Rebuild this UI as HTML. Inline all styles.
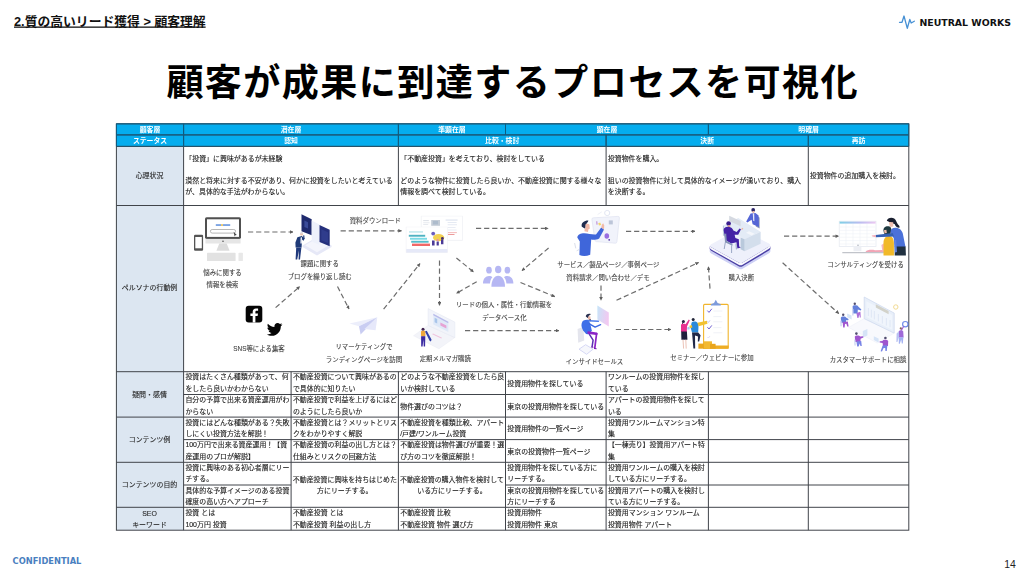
<!DOCTYPE html>
<html lang="ja"><head><meta charset="utf-8"><title>顧客が成果に到達するプロセスを可視化</title>
<style>
html,body{margin:0;padding:0;background:#fff;}
body{width:1025px;height:577px;overflow:hidden;position:relative;font-family:"Liberation Sans","Noto Sans CJK JP",sans-serif;}
svg{position:absolute;left:0;top:0;}
text{font-family:"Liberation Sans","Noto Sans CJK JP",sans-serif;}
.c{font-size:6.95px;fill:#1c1c1c;stroke:#1c1c1c;stroke-width:0.12px;}
.h{font-size:6.85px;fill:#fff;font-weight:700;text-anchor:middle;}
.l{font-size:6.95px;fill:#262626;stroke:#262626;stroke-width:0.1px;text-anchor:middle;}
.d{font-size:6.42px;fill:#444;stroke:#444;stroke-width:0.1px;text-anchor:middle;}
.ar{stroke:#6c6c6c;stroke-width:1.2;stroke-dasharray:5.2 2.9;fill:none;}
.g{stroke:#40444a;stroke-width:1;fill:none;}
.gh{stroke:#0c5d84;stroke-width:1;fill:none;}
</style></head><body>
<svg width="1025" height="577" viewBox="0 0 1025 577">
<defs><marker id="ah" viewBox="0 0 6 6" refX="5.4" refY="3" markerWidth="3.8" markerHeight="3.6" markerUnits="userSpaceOnUse" orient="auto"><path d="M0,0 L6,3 L0,6 Z" fill="#5e5e5e"/></marker></defs>
<text x="14" y="25.5" style="font-size:12.8px;font-weight:700;fill:#111;text-decoration:underline">2.質の高いリード獲得 &gt; 顧客理解</text>
<text x="166.4" y="96.4" style="font-size:37.1px;letter-spacing:1.4px;font-weight:700;fill:#000">顧客が成果に到達するプロセスを可視化</text>
<path d="M899.5,22.3 L902,22.3 L904,16 L907.3,28.3 L909.8,19.5 L911.2,23 L914.3,21.2" fill="none" stroke="#4690d4" stroke-width="1.3" stroke-linejoin="round" stroke-linecap="round"/>
<text x="919.4" y="25.8" style="font-family:'DejaVu Sans','Liberation Sans',sans-serif;font-size:9.4px;font-weight:700;fill:#111">NEUTRAL WORKS</text>
<text x="12.6" y="563.7" style="font-family:'DejaVu Sans','Liberation Sans',sans-serif;font-size:8.3px;font-weight:700;fill:#4a7fc0">CONFIDENTIAL</text>
<text x="1004.2" y="568" style="font-size:10.4px;fill:#222">14</text>
<g style="filter:blur(0.35px)">
<rect x="116.4" y="123.8" width="792.4" height="22.60000000000001" fill="#05adee"/>
<rect x="116.4" y="146.4" width="67.19999999999999" height="383.80000000000007" fill="#dce6f1"/>
<rect class="g" x="116.4" y="123.8" width="792.4" height="406.40000000000003"/>
<line class="g" x1="116.4" y1="134.9" x2="908.8" y2="134.9"/>
<line class="g" x1="116.4" y1="146.4" x2="908.8" y2="146.4"/>
<line class="g" x1="116.4" y1="205.5" x2="908.8" y2="205.5"/>
<line class="g" x1="116.4" y1="371.7" x2="908.8" y2="371.7"/>
<line class="g" x1="116.4" y1="417.1" x2="908.8" y2="417.1"/>
<line class="g" x1="116.4" y1="462.3" x2="908.8" y2="462.3"/>
<line class="g" x1="116.4" y1="507.3" x2="908.8" y2="507.3"/>
<line class="g" x1="183.6" y1="394.5" x2="908.8" y2="394.5"/>
<line class="g" x1="183.6" y1="439.6" x2="908.8" y2="439.6"/>
<line class="g" x1="183.6" y1="485.0" x2="291.1" y2="485.0"/>
<line class="g" x1="505.5" y1="485.0" x2="908.8" y2="485.0"/>
<line class="g" x1="183.6" y1="123.8" x2="183.6" y2="530.2"/>
<line class="g" x1="398.4" y1="123.8" x2="398.4" y2="134.9"/>
<line class="g" x1="505.5" y1="123.8" x2="505.5" y2="134.9"/>
<line class="g" x1="708.4" y1="123.8" x2="708.4" y2="134.9"/>
<line class="g" x1="398.4" y1="134.9" x2="398.4" y2="146.4"/>
<line class="g" x1="606.1" y1="134.9" x2="606.1" y2="146.4"/>
<line class="g" x1="808.3" y1="134.9" x2="808.3" y2="146.4"/>
<line class="g" x1="398.4" y1="146.4" x2="398.4" y2="205.5"/>
<line class="g" x1="606.1" y1="146.4" x2="606.1" y2="205.5"/>
<line class="g" x1="808.3" y1="146.4" x2="808.3" y2="205.5"/>
<line class="g" x1="291.1" y1="371.7" x2="291.1" y2="530.2"/>
<line class="g" x1="398.4" y1="371.7" x2="398.4" y2="530.2"/>
<line class="g" x1="505.5" y1="371.7" x2="505.5" y2="530.2"/>
<line class="g" x1="606.1" y1="371.7" x2="606.1" y2="530.2"/>
<line class="g" x1="708.4" y1="371.7" x2="708.4" y2="530.2"/>
<line class="g" x1="808.3" y1="371.7" x2="808.3" y2="530.2"/>
<line class="gh" x1="116.4" y1="123.8" x2="908.8" y2="123.8"/>
<line class="gh" x1="116.4" y1="134.9" x2="908.8" y2="134.9"/>
<line class="gh" x1="116.4" y1="123.8" x2="116.4" y2="146.4"/>
<line class="gh" x1="908.8" y1="123.8" x2="908.8" y2="146.4"/>
<line class="gh" x1="183.6" y1="123.8" x2="183.6" y2="146.4"/>
<line class="gh" x1="398.4" y1="123.8" x2="398.4" y2="134.9"/>
<line class="gh" x1="505.5" y1="123.8" x2="505.5" y2="134.9"/>
<line class="gh" x1="708.4" y1="123.8" x2="708.4" y2="134.9"/>
<line class="gh" x1="398.4" y1="134.9" x2="398.4" y2="146.4"/>
<line class="gh" x1="606.1" y1="134.9" x2="606.1" y2="146.4"/>
<line class="gh" x1="808.3" y1="134.9" x2="808.3" y2="146.4"/>
<line x1="116.4" y1="146.4" x2="908.8" y2="146.4" stroke="#24556e" stroke-width="1"/>
<text class="h" x="150.0" y="132.1">顧客層</text>
<text class="h" x="291.0" y="132.1">潜在層</text>
<text class="h" x="451.9" y="132.1">準顕在層</text>
<text class="h" x="607.0" y="132.1">顕在層</text>
<text class="h" x="808.6" y="132.1">明確層</text>
<text class="h" x="150.0" y="143.3">ステータス</text>
<text class="h" x="291.0" y="143.3">認知</text>
<text class="h" x="502.2" y="143.3">比較・検討</text>
<text class="h" x="707.2" y="143.3">決断</text>
<text class="h" x="858.5" y="143.3">再訪</text>
<text class="l" x="149.5" y="178.3">心理状況</text>
<text class="l" x="149.5" y="290.2">ペルソナの行動例</text>
<text class="l" x="149.5" y="397.0">疑問・感情</text>
<text class="l" x="149.5" y="442.3">コンテンツ例</text>
<text class="l" x="149.5" y="487.4">コンテンツの目的</text>
<text class="l" x="149.5" y="516.0">SEO</text>
<text class="l" x="149.5" y="527.4">キーワード</text>
<text class="c" x="185.3" y="160.8">「投資」に興味があるが未経験</text>
<text class="c" x="185.3" y="182.8">漠然と将来に対する不安があり、何かに投資をしたいと考えている</text>
<text class="c" x="185.3" y="194.1">が、具体的な手法がわからない。</text>
<text class="c" x="400.3" y="160.8">「不動産投資」を考えており、検討をしている</text>
<text class="c" x="400.3" y="182.8">どのような物件に投資したら良いか、不動産投資に関する様々な</text>
<text class="c" x="400.3" y="194.1">情報を調べて検討している。</text>
<text class="c" x="607.8" y="160.8">投資物件を購入。</text>
<text class="c" x="607.8" y="182.8">狙いの投資物件に対して具体的なイメージが湧いており、購入</text>
<text class="c" x="607.8" y="194.1">を決断する。</text>
<text class="c" x="809.8" y="178.2">投資物件の追加購入を検討。</text>
<text class="c" x="185.4" y="379.3">投資はたくさん種類があって、何</text>
<text class="c" x="185.4" y="390.8">をしたら良いかわからない</text>
<text class="c" x="292.9" y="379.3">不動産投資について興味があるの</text>
<text class="c" x="292.9" y="390.8">で具体的に知りたい</text>
<text class="c" x="400.2" y="379.3">どのような不動産投資をしたら良</text>
<text class="c" x="400.2" y="390.8">いか検討している</text>
<text class="c" x="507.3" y="385.9">投資用物件を探している</text>
<text class="c" x="607.9" y="379.3">ワンルームの投資用物件を探し</text>
<text class="c" x="607.9" y="390.8">ている</text>
<text class="c" x="185.4" y="402.1">自分の予算で出来る資産運用がわ</text>
<text class="c" x="185.4" y="413.6">からない</text>
<text class="c" x="292.9" y="402.1">不動産投資で利益を上げるにはど</text>
<text class="c" x="292.9" y="413.6">のようにしたら良いか</text>
<text class="c" x="400.2" y="408.6">物件選びのコツは？</text>
<text class="c" x="507.3" y="408.6">東京の投資用物件を探している</text>
<text class="c" x="607.9" y="402.1">アパートの投資用物件を探して</text>
<text class="c" x="607.9" y="413.6">いる</text>
<text class="c" x="185.4" y="424.8">投資にはどんな種類がある？失敗</text>
<text class="c" x="185.4" y="436.2">しにくい投資方法を解説！</text>
<text class="c" x="292.9" y="424.8">不動産投資とは？メリットとリス</text>
<text class="c" x="292.9" y="436.2">クをわかりやすく解説</text>
<text class="c" x="400.2" y="424.8">不動産投資を種類比較、アパート</text>
<text class="c" x="400.2" y="436.2">/戸建/ワンルーム投資</text>
<text class="c" x="507.3" y="431.1">投資用物件の一覧ページ</text>
<text class="c" x="607.9" y="424.8">投資用ワンルームマンション特</text>
<text class="c" x="607.9" y="436.2">集</text>
<text class="c" x="185.4" y="447.2">100万円で出来る資産運用！【資</text>
<text class="c" x="185.4" y="458.8">産運用のプロが解説】</text>
<text class="c" x="292.9" y="447.2">不動産投資の利益の出し方とは？</text>
<text class="c" x="292.9" y="458.8">仕組みとリスクの回避方法</text>
<text class="c" x="400.2" y="447.2">不動産投資は物件選びが重要！選</text>
<text class="c" x="400.2" y="458.8">び方のコツを徹底解説！</text>
<text class="c" x="507.3" y="453.7">東京の投資物件一覧ページ</text>
<text class="c" x="607.9" y="447.2">【一棟売り】投資用アパート特</text>
<text class="c" x="607.9" y="458.8">集</text>
<text class="c" x="185.4" y="469.9">投資に興味のある初心者層にリー</text>
<text class="c" x="185.4" y="481.4">チする。</text>
<text class="c" x="507.3" y="469.9">投資用物件を探している方に</text>
<text class="c" x="507.3" y="481.4">リーチする。</text>
<text class="c" x="607.9" y="469.9">投資用ワンルームの購入を検討</text>
<text class="c" x="607.9" y="481.4">している方にリーチする。</text>
<text class="c" x="185.4" y="492.6">具体的な予算イメージのある投資</text>
<text class="c" x="185.4" y="504.1">確度の高い方へアプローチ</text>
<text class="c" x="507.3" y="492.6">東京の投資用物件を探している</text>
<text class="c" x="507.3" y="504.1">方にリーチする</text>
<text class="c" x="607.9" y="492.6">投資用アパートの購入を検討し</text>
<text class="c" x="607.9" y="504.1">ている方にリーチする。</text>
<text class="c" x="344.8" y="481.6" text-anchor="middle">不動産投資に興味を持ちはじめた</text>
<text class="c" x="344.8" y="493.1" text-anchor="middle">方にリーチする。</text>
<text class="c" x="451.9" y="481.6" text-anchor="middle">不動産投資の購入物件を検討して</text>
<text class="c" x="451.9" y="493.1" text-anchor="middle">いる方にリーチする。</text>
<text class="c" x="185.4" y="515.0">投資 とは</text>
<text class="c" x="185.4" y="526.5">100万円 投資</text>
<text class="c" x="292.9" y="515.0">不動産投資 とは</text>
<text class="c" x="292.9" y="526.5">不動産投資 利益の出し方</text>
<text class="c" x="400.2" y="515.0">不動産投資 比較</text>
<text class="c" x="400.2" y="526.5">不動産投資 物件 選び方</text>
<text class="c" x="507.3" y="515.0">投資用物件</text>
<text class="c" x="507.3" y="526.5">投資用物件 東京</text>
<text class="c" x="607.9" y="515.0">投資用マンション ワンルーム</text>
<text class="c" x="607.9" y="526.5">投資用物件 アパート</text>
<text class="d" x="222.5" y="275.3">悩みに関する</text>
<text class="d" x="222.5" y="287.3">情報を検索</text>
<text class="d" x="319.7" y="266.3">課題に関する</text>
<text class="d" x="319.7" y="278.8">ブログを繰り返し読む</text>
<text class="d" x="375.3" y="223.3">資料ダウンロード</text>
<text class="d" x="259.0" y="351.3">SNS等による集客</text>
<text class="d" x="364.0" y="349.0">リマーケティングで</text>
<text class="d" x="364.0" y="362.0">ランディングページを訪問</text>
<text class="d" x="445.3" y="361.1">定期メルマガ購読</text>
<text class="d" x="504.0" y="307.0">リードの個人・属性・行動情報を</text>
<text class="d" x="504.4" y="319.5">データベース化</text>
<text class="d" x="608.4" y="266.7">サービス／製品ページ／事例ページ</text>
<text class="d" x="608.0" y="279.5">資料請求／問い合わせ／デモ</text>
<text class="d" x="594.4" y="363.9">インサイドセールス</text>
<text class="d" x="741.3" y="280.3">購入決断</text>
<text class="d" x="711.9" y="360.1">セミナー／ウェビナーに参加</text>
<text class="d" x="865.6" y="266.7">コンサルティングを受ける</text>
<text class="d" x="868.0" y="362.3">カスタマーサポートに相談</text>
<line class="ar" x1="248.0" y1="232.0" x2="293.0" y2="232.0" marker-end="url(#ah)"/>
<line class="ar" x1="340.6" y1="230.8" x2="401.5" y2="230.8" marker-end="url(#ah)"/>
<line class="ar" x1="275.6" y1="307.6" x2="299.8" y2="286.5" marker-end="url(#ah)"/>
<line class="ar" x1="337.5" y1="286.5" x2="349.0" y2="309.0" marker-end="url(#ah)"/>
<line class="ar" x1="383.6" y1="309.2" x2="420.0" y2="263.6" marker-end="url(#ah)"/>
<line class="ar" x1="439.5" y1="260.5" x2="439.5" y2="305.3" marker-end="url(#ah)"/>
<line class="ar" x1="456.4" y1="258.0" x2="473.6" y2="272.0" marker-end="url(#ah)"/>
<line class="ar" x1="476.7" y1="281.7" x2="456.4" y2="293.4" marker-end="url(#ah)"/>
<line class="ar" x1="476.0" y1="228.4" x2="548.3" y2="228.4" marker-end="url(#ah)"/>
<line class="ar" x1="548.6" y1="248.0" x2="522.0" y2="270.6" marker-end="url(#ah)"/>
<line class="ar" x1="520.5" y1="282.5" x2="554.8" y2="296.6" marker-end="url(#ah)"/>
<line class="ar" x1="465.0" y1="330.6" x2="559.0" y2="330.6" marker-end="url(#ah)"/>
<line class="ar" x1="601.0" y1="285.5" x2="601.0" y2="300.3" marker-end="url(#ah)"/>
<line class="ar" x1="626.0" y1="231.3" x2="695.0" y2="231.3" marker-end="url(#ah)"/>
<line class="ar" x1="616.5" y1="300.3" x2="698.6" y2="262.5" marker-end="url(#ah)"/>
<line class="ar" x1="615.8" y1="329.5" x2="671.0" y2="329.5" marker-end="url(#ah)"/>
<line class="ar" x1="710.0" y1="288.6" x2="708.4" y2="266.7" marker-end="url(#ah)"/>
<line class="ar" x1="784.0" y1="236.2" x2="838.8" y2="236.2" marker-end="url(#ah)"/>
<line class="ar" x1="782.6" y1="262.8" x2="838.8" y2="313.6" marker-end="url(#ah)"/>
<g style="filter:blur(0.4px)">
<!-- monitor / phone / keyboard -->
<g>
<rect x="205" y="217.3" width="36" height="21.6" rx="1.6" fill="#505050"/>
<rect x="207" y="219.3" width="32" height="17.6" fill="#fff"/>
<rect x="205.4" y="238.9" width="35.2" height="4.6" fill="#e6e6e6"/>
<circle cx="223" cy="241.2" r="0.8" fill="#555"/>
<path d="M219.3,243.5 L226.7,243.5 L229.6,250.8 L216.4,250.8 Z" fill="#dcdcdc"/>
<rect x="207" y="252.8" width="28.6" height="8.2" rx="0.6" fill="#e2e2e2"/>
<rect x="238.5" y="252.8" width="4.4" height="8.2" rx="0.6" fill="#e8e8e8"/>
<rect x="210.4" y="229.5" width="25.2" height="3.6" rx="1.8" fill="#fff" stroke="#9a9a9a" stroke-width="0.7"/>
<rect x="215.8" y="224.2" width="5.2" height="1.7" fill="#6f9be0"/><rect x="221" y="224.2" width="2" height="1.7" fill="#ecc45a"/><rect x="223" y="224.2" width="7.2" height="1.7" fill="#6f9be0"/>
<path d="M233.6,231.8 L236.8,235 L235.4,235.2 L234.6,236.4 Z" fill="#444"/>
<rect x="194" y="234.8" width="9.1" height="15.9" rx="1.2" fill="#545454"/>
<rect x="195.3" y="237" width="6.5" height="11.3" fill="#fff"/>
</g>
<!-- blog illustration -->
<g>
<path d="M302.5,245.6 L317,237 L331.6,245.6 L331.6,247 L317,255.6 L302.5,247 Z" fill="#e6e8f7"/>
<path d="M305,245.2 L317,238.4 L329,245.2 L317,252.200 Z" fill="#f4f5fc"/>
<path d="M301.5,214.3 L311.7,219.2 L311.7,235.2 L301.5,231.3 Z" fill="#1f2a6e"/>
<path d="M304.4,220.6 L308,222.3 L308,228.6 L304.4,227.1 Z" fill="#3a4b9a"/>
<path d="M311.7,220.6 L319.5,224.4 L319.5,245 L311.7,241.4 Z" fill="#eef1fb"/>
<path d="M319.5,225 L329.7,229.8 L329.7,246.3 L319.5,242 Z" fill="#25307c"/>
<path d="M321.3,229.2 L328,232.3 L328,243 L321.3,240.2 Z" fill="#2f3c8c"/>
<circle cx="301.6" cy="234.1" r="1.6" fill="#e9c7b5"/>
<path d="M300.2,233 A1.7,1.7 0 0 1 303.2,233 L302.8,233.6 L300.4,233.6 Z" fill="#d9dce8"/>
<path d="M297.4,237.2 L301.8,236 L304.6,238.4 L303.4,240.8 L302,239.6 L301.6,247.4 L295.6,247.4 L295.4,242.6 Z" fill="#1f3a78"/>
<path d="M300.6,237.4 L302,237.2 L301.8,243.4 L300.4,243.4 Z" fill="#f4f6fb"/>
<path d="M303.4,240.8 L304.6,238.4 L304.2,235.2 L303.2,235.4 Z" fill="#1f3a78"/>
<path d="M296.2,247.4 L301.4,247.4 L300,259.4 L298.6,259.4 L298.9,250.4 L297.2,259.4 L295.6,259.4 Z" fill="#203a7c"/>
</g>
<!-- SNS icons -->
<g>
<rect x="245.7" y="305.7" width="16.6" height="16.8" rx="3" fill="#050505"/>
<path d="M255.4,322.5 L255.4,316 L257.6,316 L258,313.5 L255.4,313.5 L255.4,312 C255.4,311.2 255.8,310.8 256.7,310.8 L258.1,310.8 L258.1,308.6 C257.6,308.5 256.8,308.4 256,308.4 C253.9,308.4 252.7,309.7 252.7,311.8 L252.7,313.5 L250.4,313.5 L250.4,316 L252.7,316 L252.7,322.5 Z" fill="#fff"/>
<path d="M282.3,324.6 c-0.6,0.3 -1.2,0.4 -1.8,0.5 c0.7,-0.4 1.2,-1 1.4,-1.8 c-0.6,0.4 -1.3,0.6 -2,0.8 c-0.6,-0.6 -1.400,-1 -2.300,-1 c-1.800,0 -3.200,1.400 -3.200,3.200 c0,0.200 0,0.500 0.100,0.700 c-2.700,-0.100 -5,-1.400 -6.600,-3.300 c-0.300,0.500 -0.400,1 -0.400,1.600 c0,1.100 0.600,2.100 1.400,2.700 c-0.500,0 -1,-0.200 -1.500,-0.400 v0 c0,1.600 1.100,2.900 2.600,3.200 c-0.300,0.100 -0.600,0.100 -0.800,0.100 c-0.200,0 -0.400,0 -0.600,-0.100 c0.400,1.300 1.600,2.200 3,2.200 c-1.100,0.900 -2.500,1.400 -4,1.400 c-0.300,0 -0.500,0 -0.800,0 c1.400,0.900 3.100,1.400 4.900,1.400 c5.900,0 9.100,-4.900 9.100,-9.100 c0,-0.100 0,-0.300 0,-0.400 c0.600,-0.500 1.200,-1 1.600,-1.700 z" fill="#050505"/>
</g>
<!-- paper plane -->
<g>
<path d="M349.5,323.5 L377.3,317.2 L359,326.3 Z" fill="#eceefb"/>
<path d="M359,326.3 L377.3,317.2 L360.6,334.6 Z" fill="#c9cdf2"/>
<path d="M377.3,317.2 L375.6,330.2 L364.4,329 Z" fill="#e6e8fa"/>
</g>
<!-- slides -->
<g>
<rect x="420.8" y="215.8" width="42" height="25" fill="#f1f2f6"/>
<rect x="421.6" y="216.4" width="40.4" height="23.4" fill="#fff"/>
<rect x="431.2" y="220" width="8.8" height="5.8" fill="#c4ccd6"/>
<rect x="433" y="221" width="5" height="3.4" fill="#aebccc"/>
<rect x="423.2" y="220.2" width="5.6" height="0.9" fill="#d8dce4"/><rect x="423.2" y="222.4" width="6.4" height="0.8" fill="#e2e5ec"/><rect x="423.2" y="224.2" width="5" height="0.8" fill="#e2e5ec"/>
<rect x="445.6" y="219.6" width="12" height="0.9" fill="#d4dcec"/><rect x="447.6" y="222" width="9" height="0.8" fill="#dfe5f1"/><rect x="447.6" y="224.4" width="9.4" height="0.8" fill="#dfe5f1"/><rect x="447.6" y="227" width="8" height="0.8" fill="#e4e8f2"/><rect x="447.6" y="229.6" width="9" height="0.8" fill="#e4e8f2"/>
<rect x="447.9" y="232.2" width="9" height="0.9" fill="#f2b3b3"/><rect x="447.9" y="234" width="6.6" height="1" fill="#ec9a9a"/>
<rect x="405.8" y="226.8" width="42" height="26" fill="#eff0f5"/>
<rect x="406.4" y="227.2" width="40.9" height="22" fill="#fff"/>
<rect x="406.4" y="249" width="40.9" height="3.5" fill="#e6e9f8"/>
<rect x="409" y="231.4" width="14" height="1.1" fill="#a9dfe6"/>
<rect x="408.8" y="234.8" width="16.4" height="1.9" fill="#4fb3c2"/>
<rect x="410" y="237.8" width="17" height="1.9" fill="#7adbe6"/>
<rect x="411.2" y="240.8" width="17.4" height="1.9" fill="#52bccb"/>
<rect x="412" y="243.6" width="18" height="2.4" fill="#f06868"/>
<ellipse cx="438.6" cy="237.6" rx="5.6" ry="3.6" fill="#f2d052"/>
<circle cx="433.2" cy="233.6" r="1.9" fill="#6a5cc0"/>
<path d="M432,240.4 h2.600 v5 h-2.600 z M436.600,241.400 h2.200 v4 h-2.200 z M441,239.600 h2.400 v4.600 h-2.400 z" fill="#4b3a96"/>
<circle cx="442.400" cy="238.400" r="1.400" fill="#47306e"/>
<circle cx="437.600" cy="240" r="1.100" fill="#e88ab0"/>
</g>
<!-- people icon -->
<g fill="#b6b7f3">
<ellipse cx="489" cy="270.2" rx="2.8" ry="3.4"/>
<ellipse cx="507.4" cy="270.2" rx="2.800" ry="3.400"/>
<path d="M483,283.600 C483,279 485.500,276.100 489,276.100 C490.600,276.100 491.800,276.600 492.400,277.200 C490.800,278.800 490.200,281 490,283.600 Z"/>
<path d="M513.400,283.600 C513.400,279 510.900,276.100 507.400,276.100 C505.800,276.100 504.600,276.600 504,277.200 C505.600,278.800 506.200,281 506.400,283.600 Z"/>
<ellipse cx="498.200" cy="269.500" rx="3.200" ry="3.800"/>
<path d="M491.400,286.700 C491.400,280.400 494.200,275.800 498.200,275.800 C502.200,275.800 505,280.400 505,286.700 Z"/>
</g>

<!-- newsletter laptop -->
<g>
<path d="M428.1,325.4 L454.8,337.6 L438.9,348.8 L413.6,335.7 Z" fill="#f3f4f9" stroke="#e9ebf3" stroke-width="0.5"/>
<path d="M428.1,308.6 L454.8,322.1 L454.8,337.6 L428.1,325.4 Z" fill="#f2f4fa" stroke="#e4e7f1" stroke-width="0.6"/>
<path d="M433.3,313.7 L448.3,321.7 L448.3,332 L433.3,324.5 Z" fill="#dfe9f8"/>
<path d="M433.3,313.7 L448.3,321.700 L448.3,323.300 L433.3,315.300 Z" fill="#b9baea"/>
<path d="M434.600,317.800 L437.200,319.100 L437.200,323.600 L434.600,322.300 Z" fill="#a9c5ea"/>
<path d="M440.400,322.400 L446.400,325.400 L446.400,328.600 L440.400,325.600 Z" fill="#e6a3d4"/>
<path d="M433,333.400 L442,337.800 L441.200,338.600 L432.200,334.200 Z" fill="#f0c2dc"/>
<circle cx="423" cy="329.300" r="1.500" fill="#41234f"/>
<rect x="421" y="330.700" width="4.400" height="5.800" rx="1" fill="#f0a93c"/>
<path d="M421.100,336.200 L425.300,336.200 L425.100,346.500 L423.700,346.500 L423.400,339.500 L422.600,346.500 L421.200,346.500 Z" fill="#3b2ba2"/>
<path d="M425,331.600 L426.800,330.800 L431.600,339.800 L430.800,341.600 L429.600,340.800 Z" fill="#3242aa"/>
</g>
<!-- service person -->
<g>
<circle cx="607.2" cy="213" r="2.600" fill="none" stroke="#e1e5f2" stroke-width="1"/>
<path d="M597.600,214.600 L601.800,211.800" stroke="#e6e9f3" stroke-width="0.700" fill="none"/>
<path d="M593.400,217.800 L618,216.400 Q619.600,216.400 619.400,218 L616.900,241.800 Q616.700,243.300 615.200,243.200 L596.400,241.600 Q595,241.400 594.800,240 L591.900,219.400 Q591.800,217.900 593.400,217.800 Z" fill="#f1f3fb" stroke="#dfe3f1" stroke-width="0.700"/>
<rect x="608.800" y="220.400" width="4" height="4" fill="#bcc5d8"/>
<path d="M596,221.400 l1.200,-0.400 l0.600,3.400 l-1.400,0.400 z" fill="#c7a0dc"/>
<path d="M598.200,223.200 l2,-0.800 l1,2.600 l-2.200,0.600 z" fill="#f3d76a"/>
<ellipse cx="606.800" cy="236" rx="2.300" ry="2.700" fill="#9a6fe0"/>
<circle cx="609.200" cy="239.800" r="0.900" fill="#5b3fa8"/>
<path d="M581.800,226.800 C580.800,222.800 584.600,220.400 588.400,220.600 C588,222.200 586.800,223.400 586,224.200 L585.200,228.800 Z" fill="#1f2d4f"/>
<path d="M585.400,224.600 C586.600,223.400 588.600,223.400 589.400,224.800 L589.800,228.600 C588.800,229.800 587,230 585.800,229.200 Z" fill="#f1b9a8"/>
<path d="M584.800,228 L588.400,229.400 L588,232 L584.400,231.200 Z" fill="#f1b9a8"/>
<path d="M577.300,237.400 C577.800,234.200 580.600,233.200 584.200,233.200 C588.400,233.200 592.600,235 596,234.400 L601.200,227.600 L604,229.400 L599.200,238.400 C596.400,240 593,240 591.200,239.600 L590.200,254.800 C586,256.400 582.400,256.200 579.400,255 L579.800,241.400 Z" fill="#3f66da"/>
<path d="M601.200,227.600 L602,224.600 L603.200,223.200 L604.200,225.400 L604,229.400 Z" fill="#f1b9a8"/>
<path d="M574.600,243 L575.800,248.400 M576.600,250.800 L579,249.600" stroke="#d6dae6" stroke-width="0.900" fill="none"/>
</g>
<!-- inside sales -->
<g>
<defs><linearGradient id="gs" x1="0" y1="0" x2="1" y2="0.300"><stop offset="0" stop-color="#bfe2f8"/><stop offset="1" stop-color="#f0c4f0"/></linearGradient></defs>
<path d="M597.4,305.600 L608.800,312.400 L608.800,326.400 L597.400,319.600 Z" fill="url(#gs)" opacity="0.900"/>
<path d="M577.600,329 L583.400,326.800 L584.200,340.400 L578.200,342.800 Z" fill="#e4e5ed"/>
<path d="M579,349.200 L585.600,344.700 L593.100,349.200 L586.600,354.300 Z" fill="#f6f7fc" stroke="#c5c8f0" stroke-width="0.700"/>
<path d="M585.800,316.600 C585.600,314.200 588.400,313.200 590.800,314 C590.200,315 589.400,315.400 588.800,315.800 L588.400,318.400 Z" fill="#2a3050"/>
<path d="M588.200,316.400 L590.200,316.200 L590.600,318.800 L589.400,320 L588,319.200 Z" fill="#efb7a6"/>
<path d="M589.200,319.400 L590.600,319 L591.200,321 L589.800,321.200 Z" fill="#2a3050"/>
<path d="M583.100,320.800 C584.600,319.800 586.800,319.400 588.400,319.800 L590.200,323.600 L591.800,330.400 L589.300,334.400 L586.100,333.900 C583.600,331.600 581.800,329 581.500,326.100 C581.400,323.800 581.900,321.900 583.100,320.800 Z" fill="#3e6fe8"/>
<path d="M588.400,320.700 L598.400,321.300" stroke="#4c7cec" stroke-width="1.500" stroke-linecap="round" fill="none"/>
<path d="M589.400,323.900 L595.100,327.100 L600.600,324.700" stroke="#3a68e2" stroke-width="1.400" stroke-linecap="round" stroke-linejoin="round" fill="none"/>
<path d="M589.600,334.700 L593.100,340.200 L592.100,346.700" stroke="#5a2fb4" stroke-width="1.500" stroke-linecap="round" stroke-linejoin="round" fill="none"/>
<path d="M588.600,332.600 L596.400,333.700" stroke="#8a22c6" stroke-width="2.600" stroke-linecap="round" fill="none"/>
<path d="M596.600,333.700 L594.800,347.800" stroke="#8a22c6" stroke-width="1.700" stroke-linecap="round" fill="none"/>
<path d="M594,347.800 L596.600,348.200 L596.600,349.200 L594,349 Z M591.200,346.400 L593.400,346.800 L593.400,347.800 L591.200,347.600 Z" fill="#7a20b0"/>
</g>
<!-- purchase decision -->
<g>
<path d="M709.700,248.600 L709.700,251.400 Q709.900,252.600 711.200,253.400 L738.600,268.800 Q740.600,269.800 742.600,268.800 L769,253.200 Q770.400,252.400 770.400,251.200 L770.400,248.400 Z" fill="#cdd0f5"/>
<path d="M709.700,246.600 L709.700,248.800 Q709.900,250 711.200,250.800 L738.600,266.200 Q740.600,267.200 742.600,266.200 L769,250.600 Q770.400,249.800 770.400,248.600 L770.400,246.400 Z" fill="#4a3fa4"/>
<path d="M711.200,244.200 L737.800,229.800 Q739.800,228.800 741.800,229.800 L769,243.600 Q771.400,245 769,246.600 L742.600,262.600 Q740.600,263.600 738.600,262.600 L711.200,247.200 Q708.800,245.600 711.200,244.200 Z" fill="#eef0fb"/>
<path d="M711.200,247.200 L738.600,262.600 Q740.600,263.600 742.600,262.600 L769,246.600 Q770.400,245.800 770.400,244.800 L770.400,246.800 Q770.400,248 769,248.800 L742.600,264.800 Q740.600,265.800 738.600,264.800 L711.200,249.400 Q709.700,248.400 709.700,247.200 L709.700,245.400 Q709.900,246.400 711.200,247.200 Z" fill="#f7f8fd"/>
<path d="M755.800,215.800 L759.600,217.400 L759.600,228.400 L755.800,226.600 Z" fill="#8b98ba"/>
<path d="M722.900,225.500 L738.300,218 L760.600,231.700 L744.600,239.200 Z" fill="#e3ebf6"/>
<path d="M744.600,239.200 L760.600,231.700 L760.600,243.800 L744.600,251.200 Z" fill="#d3deec"/>
<path d="M740.600,237.400 L744.600,239.200 L744.600,251.200 L740.600,249.200 Z" fill="#b9c9dc"/>
<path d="M722.900,225.500 L724.200,226.100 L724.200,236 L722.900,235.400 Z" fill="#b9c9dc"/>
<path d="M729.200,215.700 L740.600,220.900 L740.600,226.300 L729.200,221.100 Z" fill="#d5d9e1"/>
<path d="M749,231.200 L754.600,233.800 L751.600,235.400 L746,232.800 Z" fill="#f4f6fb"/>
<circle cx="753.200" cy="210" r="1.900" fill="#2c2468"/>
<path d="M752.400,211 L754.200,211 L754.400,213 L752.600,213.200 Z" fill="#eab6a6"/>
<path d="M750.600,213.600 L755.400,213 L758.600,215.600 L759,227 L752.600,224.200 L751.600,219.800 L747.400,222.600 L746.200,221.600 Z" fill="#5566d6"/>
<path d="M752.800,213.400 L754.200,213.200 L754.400,221.200 L753.200,220.800 Z" fill="#e7eaf8"/>
<circle cx="728.600" cy="223.500" r="2.300" fill="#3a1c8c"/>
<path d="M727.800,225.200 L730.200,225.200 L730.200,227 L727.800,227 Z" fill="#e2a89a"/>
<path d="M723.600,230 C723.800,227.600 726,226.600 728.600,226.800 C731.200,227 732.800,228.600 733.400,230.600 L736.600,232 L739.600,228.400 L741,229.200 L738.200,234.800 L734.600,234.800 L735.400,238 L738.800,239.200 L739.200,246.400 L740.800,247.400 L737.400,248.600 L736.400,242.200 L731.200,243.400 L725.400,240 Z" fill="#4422a6"/>
<path d="M741,229.200 L742.400,227.800 L743.400,228.400 L742,230 Z" fill="#eab6a6"/>
<path d="M724.400,234 L726.200,233.600 L726.800,241 L732.600,244.200 L732.400,245.800 L725,242.200 Z" fill="#8493b6"/>
<path d="M725.400,242 L724.200,249 M731.600,245.400 L731.600,253 M736,243.600 L736.400,249.400" stroke="#8493b6" stroke-width="0.800" fill="none"/>
</g>

<!-- seminar -->
<g>
<rect x="703.600" y="304.400" width="24.600" height="43.800" rx="1" fill="#fff" stroke="#f1b52c" stroke-width="1.100"/>
<rect x="703.100" y="345.500" width="25.600" height="3.200" fill="#eead24"/>
<path d="M715.800,299.700 L717.600,303 L720.800,304.200 L720.800,305.400 L710.900,305.400 L710.900,304.200 L714,303 Z" fill="#7d9bdc"/>
<path d="M707.400,310.600 L709,312.400 L711.800,308.800" stroke="#7262d2" stroke-width="1" fill="none"/>
<path d="M707.400,327.200 L709,329 L711.800,325.400" stroke="#7262d2" stroke-width="1" fill="none"/>
<path d="M707.400,321.400 L708.400,322.400 L710,320.400" stroke="#b9b2ec" stroke-width="0.800" fill="none"/>
<path d="M707.400,337 L708.400,338 L710,336" stroke="#d5d1f3" stroke-width="0.700" fill="none"/>
<path d="M713.400,311 h9 M713.400,316.600 h8 M713.400,321.800 h9 M713.400,327.600 h8 M713.400,332.800 h9" stroke="#eef0f6" stroke-width="0.900" fill="none"/>
<rect x="698.400" y="343.600" width="9" height="5.100" fill="#eaa71e"/>
<rect x="704" y="341.300" width="8" height="7.400" fill="#f2b932"/>
<rect x="710" y="343.800" width="5.600" height="4.900" fill="#e9a51c"/>
<circle cx="683.400" cy="321.400" r="1.500" fill="#2a2040"/>
<path d="M682.400,321.400 L682,324.400 L683.200,324.400 Z" fill="#2a2040"/>
<path d="M681,324.800 C681.600,323.600 684.600,323.400 685.600,324.200 L688.800,319.600 L689.800,320.200 L687,326.400 L686.800,332 L681,332 Z" fill="#e8318f"/>
<path d="M681.200,331.600 L686.900,331.600 L687.400,339.700 L681.400,339.700 Z" fill="#20203c"/>
<path d="M683,339.700 L683.600,348.600 M685.800,339.700 L686.200,348.600" stroke="#e6b2a3" stroke-width="0.800" fill="none"/>
<path d="M687.200,327.400 L689.400,326.600 L689.800,329.200 L687.600,329.800 Z" fill="#a6c6f2"/>
<circle cx="693.200" cy="319.400" r="1.500" fill="#222538"/>
<path d="M691.600,322.800 C692,321.400 695.400,321.200 696.600,322 L698.600,324 L698.200,332.600 L692,332.600 L690.600,327.600 Z" fill="#2a8ada"/>
<path d="M697.400,322.800 L706.800,320.800 L707.500,323.800 L698.600,326.200 Z" fill="#f2c232"/>
<path d="M689.400,325.800 L691.800,325 L692.400,327.600 L690,328.200 Z" fill="#f2c232"/>
<path d="M692,332.400 L698.200,332.400 L700.600,335.200 L699.200,341.600 L697.800,341.400 L698,336.600 L695,335.400 L695.200,348.600 L693.400,348.600 Z" fill="#202848"/>
</g>
<!-- consulting -->
<g>
<defs><linearGradient id="gc" x1="0" y1="0" x2="1" y2="0"><stop offset="0" stop-color="#7fd0e6"/><stop offset="0.550" stop-color="#b9bcf0"/><stop offset="1" stop-color="#ecc8f2"/></linearGradient></defs>
<rect x="839.200" y="221.200" width="36.800" height="25.300" fill="#fff" stroke="#e3e7ef" stroke-width="0.700"/>
<rect x="839.600" y="221.600" width="36" height="2" fill="url(#gc)"/>
<path d="M840,227 h35 M840,230.400 h35 M840,233.800 h35 M840,237.200 h35 M840,240.600 h35 M840,244 h35 M846,224 v22 M853,224 v22 M860,224 v22 M867,224 v22" stroke="#eef1f6" stroke-width="0.600" fill="none"/>
<circle cx="858" cy="245.200" r="0.700" fill="#9aa0ae"/>
<rect x="853.500" y="246.600" width="7.900" height="4.600" fill="#edeff4"/>
<rect x="842.300" y="252.200" width="51.600" height="1" fill="#b2b6be"/>
<path d="M865.600,251.800 C867,249.600 872,249.400 875,250.200 L883.900,250 L883.900,252 L865.600,252 Z" fill="#f2a5b6"/>
<path d="M881.400,245 L884.400,243 L885.400,250.600 L882.400,251.400 Z" fill="#f4b6bf"/>
<path d="M883.600,231.200 C882.800,227.600 885.600,225.800 888.600,226.200 C891,226.600 891.800,228.600 891.200,231 L890.200,234.600 L885.600,235 C884.400,234.200 883.800,232.800 883.600,231.200 Z" fill="#1e3a40"/>
<path d="M883.900,230.200 L886.400,229.800 L886.800,233 L884.600,233.200 Z" fill="#eeb9a8"/>
<path d="M883.500,243 C883.600,238.800 885.600,236.200 888.800,236.100 C892,236 893.800,238.600 893.900,243 L893.900,255.600 L883.500,255.600 Z" fill="#f1b929"/>
<path d="M886.800,220.800 C887.400,217.800 891.800,217 894.200,218.600 C896.400,220 896.200,222.600 898,224.400 C899.200,225.600 900,226.400 899.400,227.800 C897.400,228 895.400,226.400 894.800,224.200 L890.400,222.600 Z" fill="#1a2030"/>
<path d="M889.200,222 L893.200,222.200 L893.400,226.600 L890.400,227 C889.400,225.600 889,223.600 889.200,222 Z" fill="#efbfb0"/>
<path d="M890.500,232 C890.600,229.200 892.600,227.800 895.400,227.800 C899.200,227.800 901.800,230 902.800,233.600 L905.500,246.900 L894.600,246.900 L893.800,238.600 Z" fill="#4b71d9"/>
<path d="M892.600,233 L894,236.600 L876,237.200 L875.600,235 Z" fill="#3661b2"/>
<path d="M875.600,235 L876,237.200 L872.400,236.600 L871.600,235.600 Z" fill="#f2a9b6"/>
<path d="M894.700,246.400 L905.600,246.400 L905.900,255.600 L894.700,255.600 Z" fill="#203040"/>
<path d="M894.200,240 L896.200,240 L897,252 L895,252.600 Z" fill="#5c80e0"/>
</g>
<!-- customer support -->
<g>
<path d="M864.200,318.600 L894.200,333.100 L877.200,343 L848.600,327.400 Z" fill="#f8f9fd" stroke="#eef0f8" stroke-width="0.600"/>
<path d="M864.200,297 L894.200,313.100 L894.200,333.100 L864.200,318.600 Z" fill="#e8eff9" stroke="#ccd7ee" stroke-width="0.700"/>
<path d="M866.400,301.200 L892.200,315 L892.200,329.800 L866.400,317 Z" fill="#f0f5fc"/>
<path d="M875.800,304.200 L888.600,310.900 L888.600,314.200 L875.800,307.500 Z" fill="#d2d2ca"/>
<path d="M868.400,308 v8 M871.400,309.600 v8 M874.400,311 v8.400 M878.400,314 v7.400 M882.400,316 v7.600 M886.400,318 v7.600 M890,320 v7.200" stroke="#dbe4f4" stroke-width="0.800" fill="none"/>
<circle cx="895.800" cy="307" r="2.200" fill="none" stroke="#f1da92" stroke-width="1"/>
<g opacity="0.820"><!-- a -->
<circle cx="854.800" cy="303.700" r="1.200" fill="#2b2850"/>
<path d="M852.600,306.400 C853,305 857.400,305 858.200,306.400 L861.400,309.400 L860.800,310.400 L857.800,309.400 L857.600,313.600 L853,313.600 Z" fill="#4364d4"/>
<path d="M856.400,313 L860.400,311.800 L860.800,317.600 L859.800,317.600 L859.400,314.400 L858.400,318 L857.400,318 Z" fill="#9a4fd0"/>
<path d="M852,309 L853.400,309 L853.600,315.400 L852.200,315.400 Z" fill="#c3cdf2"/>
<!-- b -->
<path d="M847.200,313.400 L851.600,315.600 L851.600,319.400 L847.200,317.200 Z" fill="#cfe0f6"/>
<circle cx="843.200" cy="314.800" r="1.200" fill="#2b2850"/>
<path d="M840.800,317.800 C841.200,316.200 845.600,316.200 846.400,317.800 L848.600,319 L848.200,320.200 L846,320.200 L846,322.800 L841.200,322.800 Z" fill="#4364d4"/>
<path d="M842.600,322 L847.800,321.600 L848.600,326.600 L847.200,326.600 L846.400,323.800 L845,324 L844.600,327.600 L843.200,327.600 Z" fill="#8a30c4"/>
<path d="M840.200,320.400 L841.600,320.400 L841.800,326.200 L840.400,326.200 Z" fill="#c3cdf2"/>
<!-- c -->
<path d="M862.800,331 L867.400,329 L867.400,335.600 L862.800,337.600 Z" fill="#cfe0f6"/>
<circle cx="856.400" cy="333.600" r="1.300" fill="#2b2850"/>
<path d="M854.800,336.600 C855.200,335 859.600,335 860.400,336.600 L863.200,336.200 L863.400,337.400 L860.600,338.800 L860.400,342 L855.200,342 Z" fill="#8a30c4"/>
<path d="M856.400,341.400 L861.200,341 L861.800,346 L860.400,346 L859.800,343.400 L858.600,346.600 L857.200,346.600 Z" fill="#5a6ae0"/>
<path d="M854.200,339.400 L855.400,339.400 L855.800,345.400 L854.400,345.400 Z" fill="#c3cdf2"/>
<!-- d -->
<path d="M873.800,336.200 L878.600,338.600 L878.600,342.400 L873.800,340 Z" fill="#cfe0f6"/>
<circle cx="885.400" cy="338" r="1.300" fill="#2b2850"/>
<path d="M882.400,341 C882.800,339.400 887.400,339.400 888.200,341 L888,346 L883,346 L882.600,343 L879.600,342.400 L879.800,341.200 Z" fill="#8a30c4"/>
<path d="M882.600,345.400 L887.400,345.200 L886.800,351 L885.400,351 L885.200,348 L883.600,348 L882,351.400 L880.600,351.200 Z" fill="#5a6ae0"/>
<!-- e -->
<circle cx="905.300" cy="324.200" r="2.700" fill="none" stroke="#5474e2" stroke-width="1.200"/>
<path d="M903.600,326.400 L901.200,330.600" stroke="#8a30c4" stroke-width="1.100" fill="none"/>
<circle cx="900.800" cy="328.400" r="1.100" fill="#6a4030"/>
<path d="M898.800,331.400 C899.400,329.800 902.600,329.800 903.200,331.400 L903.600,337.600 L898.600,337.600 Z" fill="#8a4ad0"/>
<path d="M896.600,333.600 L898.800,331.400 L899.200,336 L897.400,342 L896.400,342 Z" fill="#aab4f0"/>
<path d="M898.800,337.200 L903.400,337.200 L902.800,343.600 L901.800,343.600 L901.200,339.600 L899.800,343.800 L898.800,343.800 Z" fill="#8ea0ee"/>
</g></g>

</g>
</g>
</svg>
</body></html>
